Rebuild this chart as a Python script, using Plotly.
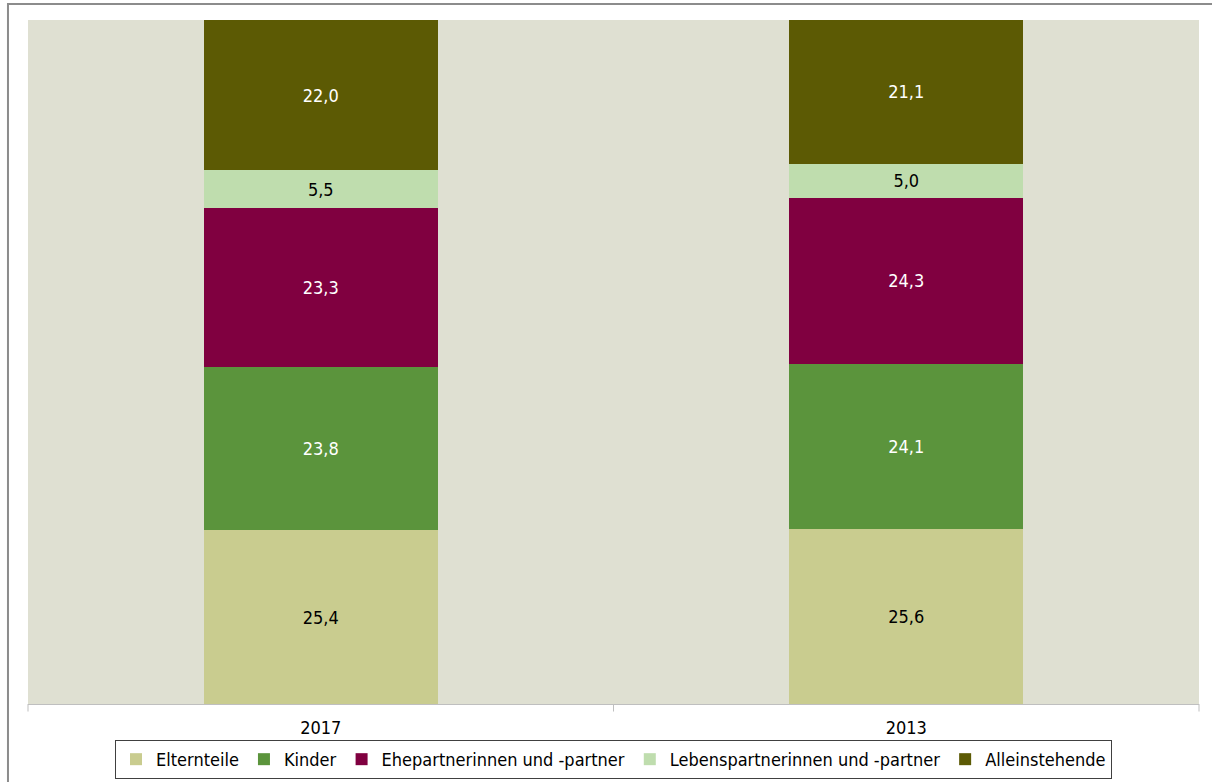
import plotly.graph_objects as go

years = ["2017", "2013"]
series_names = ["Elternteile", "Kinder", "Ehepartnerinnen und -partner",
                "Lebenspartnerinnen und -partner", "Alleinstehende"]
elternteile = [25.4, 25.6]
kinder = [23.8, 24.1]
ehepartner = [23.3, 24.3]
lebenspartner = [5.5, 5.0]
alleinstehende = [22.0, 21.1]

values = [elternteile, kinder, ehepartner, lebenspartner, alleinstehende]
colors = ["#C9CC8F", "#5B943C", "#800040", "#BFDDAE", "#5C5A04"]
text_colors = ["#000000", "#FFFFFF", "#FFFFFF", "#000000", "#FFFFFF"]

FONT = "DejaVu Sans Condensed, DejaVu Sans"

fig = go.Figure()
for name, vals, col, tcol in zip(series_names, values, colors, text_colors):
    fig.add_trace(go.Bar(
        x=years, y=vals, name=name,
        marker=dict(color=col, line=dict(width=0)),
        text=[f"{v:.1f}".replace(".", ",") for v in vals],
        textposition="inside", insidetextanchor="middle",
        textfont=dict(color=tcol, size=18, family=FONT),
        hoverinfo="skip",
    ))

fig.update_layout(
    barmode="stack",
    bargap=0.6,
    width=1212, height=782,
    margin=dict(l=28, r=13, t=20, b=78, autoexpand=False),
    paper_bgcolor="white",
    plot_bgcolor="#DFE0D2",
    font=dict(family=FONT, size=18, color="#000000"),
    xaxis=dict(showline=True, linecolor="#BFBFBF", linewidth=1, automargin=False,
               ticks="outside", ticklen=7, tickcolor="rgba(0,0,0,0)",
               showgrid=False, tickfont=dict(size=18)),
    yaxis=dict(range=[0, 100], visible=False, showgrid=False, automargin=False),
    showlegend=True,
    uniformtext=dict(mode=False),
    legend=dict(orientation="h", x=0.5, xanchor="center", y=-0.0526, yanchor="top",
                bordercolor="#404040", borderwidth=1, font=dict(size=18),
                itemwidth=30, traceorder="normal", itemclick=False,
                tracegroupgap=0),
)

# category separator ticks
for xp in [0, 0.5, 1]:
    fig.add_shape(type="line", xref="paper", yref="paper",
                  x0=xp, x1=xp, y0=0, y1=-0.011,
                  line=dict(color="#BFBFBF", width=1))

# outer chart border
fig.add_shape(type="rect", xref="paper", yref="paper",
              x0=-0.0171, x1=1.03, y0=-0.2, y1=1.0234,
              line=dict(color="#8C8C8C", width=2), layer="below")

fig.write_html("out.html", config={"displayModeBar": False},
               post_script="document.body.style.margin='0';")
